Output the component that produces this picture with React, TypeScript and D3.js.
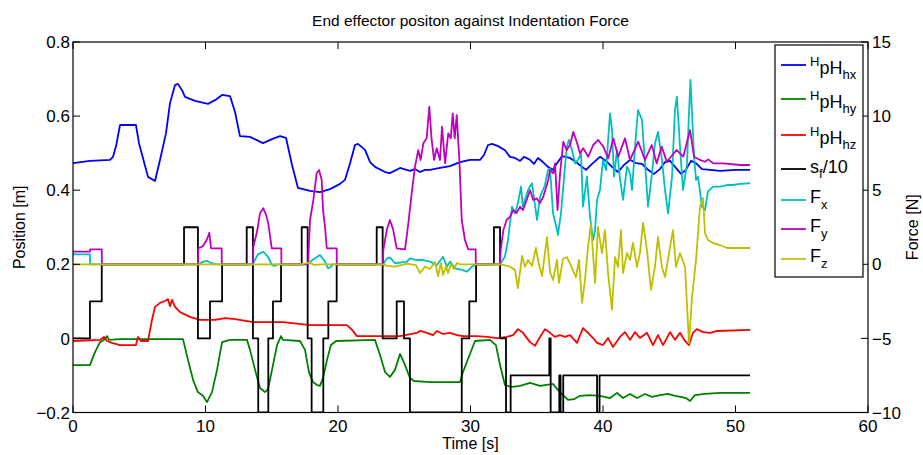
import React from 'react';
import * as d3 from 'd3';

// tick values
const timeTicks = [0, 10, 20, 30, 40, 50, 60];
const posTicks = [-0.2, 0, 0.2, 0.4, 0.6, 0.8];
const forceTicks = [-10, -5, 0, 5, 10, 15];

// end effector position [t (s), m]
const posHx: [number, number][] = [
  [0, 0.473], [1.28, 0.479], [2.79, 0.482], [3.02, 0.49], [3.25, 0.519], [3.55, 0.576], [4.75, 0.576],
  [4.98, 0.527], [5.36, 0.476], [5.66, 0.436], [6.19, 0.425], [6.57, 0.482], [7.02, 0.554], [7.32, 0.635],
  [7.7, 0.684], [7.92, 0.687], [8.23, 0.67], [8.45, 0.652], [9.21, 0.641], [10.19, 0.633], [10.72, 0.643],
  [11.25, 0.657], [11.85, 0.654], [12.23, 0.611], [12.6, 0.546], [13.36, 0.544], [14.34, 0.527], [15.02, 0.538],
  [15.62, 0.546], [16.08, 0.541], [16.53, 0.468], [16.98, 0.406], [17.89, 0.398], [18.64, 0.395], [19.4, 0.403],
  [20.15, 0.417], [20.53, 0.428], [20.91, 0.473], [21.28, 0.522], [21.51, 0.525], [22.04, 0.509], [22.42, 0.476],
  [22.79, 0.463], [23.55, 0.449], [23.92, 0.446], [24.68, 0.46], [25.43, 0.452], [25.81, 0.457], [26.19, 0.449],
  [26.57, 0.455], [26.94, 0.455], [27.7, 0.46], [28.45, 0.465], [29.21, 0.476], [29.96, 0.482], [30.72, 0.482],
  [31.02, 0.495], [31.32, 0.522], [31.62, 0.525], [32.08, 0.519], [32.6, 0.508], [32.98, 0.49], [33.36, 0.487],
  [33.74, 0.479], [34.04, 0.49], [34.49, 0.482], [34.79, 0.471], [35.09, 0.487], [35.47, 0.476], [35.85, 0.463],
  [36.23, 0.455], [36.53, 0.473], [36.91, 0.492], [37.51, 0.487], [37.96, 0.476], [38.42, 0.463], [38.72, 0.455],
  [39.17, 0.471], [39.77, 0.49], [40.23, 0.479], [40.68, 0.463], [41.13, 0.449], [41.58, 0.468], [42.04, 0.482],
  [42.49, 0.473], [42.94, 0.471], [43.4, 0.455], [43.85, 0.444], [44.3, 0.457], [44.68, 0.476], [45.06, 0.479],
  [45.51, 0.46], [45.89, 0.444], [46.26, 0.455], [46.64, 0.479], [47.02, 0.473], [47.47, 0.457], [48.08, 0.455],
  [48.83, 0.452], [49.96, 0.455], [51.1, 0.455],
];

const posHy: [number, number][] = [
  [0, -0.072], [1.28, -0.072], [1.66, -0.037], [2.04, -0.01], [2.34, -0.004], [2.57, 0.006], [2.72, -0.004],
  [3.55, -0.002], [5.81, -0.002], [8.3, -0.002], [8.68, -0.058], [9.06, -0.112], [9.43, -0.145], [9.81, -0.155],
  [10.11, -0.172], [10.49, -0.145], [10.87, -0.085], [11.25, -0.01], [11.85, -0.004], [13.13, -0.004],
  [13.36, -0.031], [13.74, -0.085], [14.11, -0.134], [14.49, -0.145], [14.72, -0.137], [15.02, -0.085],
  [15.4, -0.018], [15.7, 0.006], [15.85, -0.004], [17.13, -0.007], [17.51, -0.031], [17.81, -0.091],
  [18.11, -0.118], [18.42, -0.126], [18.64, -0.128], [18.87, -0.107], [19.17, -0.058], [19.47, -0.018],
  [19.85, -0.007], [22.79, -0.004], [23.17, -0.045], [23.55, -0.091], [23.92, -0.104], [24.3, -0.085],
  [24.68, -0.042], [25.06, -0.072], [25.43, -0.107], [25.74, -0.115], [26.94, -0.118], [28.45, -0.118],
  [29.21, -0.118], [29.43, -0.091], [29.96, -0.042], [30.34, -0.007], [31.47, -0.004], [31.92, -0.018],
  [32.23, -0.072], [32.6, -0.126], [33.13, -0.131], [33.74, -0.128], [34.49, -0.12], [35.25, -0.128],
  [36.23, -0.123], [36.6, -0.139], [36.98, -0.153], [37.36, -0.166], [37.81, -0.164], [38.26, -0.155],
  [39.02, -0.153], [39.77, -0.155], [40.53, -0.161], [41.06, -0.147], [41.51, -0.161], [42.04, -0.15],
  [42.57, -0.161], [43.17, -0.15], [43.7, -0.158], [44.3, -0.153], [44.91, -0.15], [45.43, -0.155],
  [45.89, -0.158], [46.26, -0.161], [46.57, -0.169], [46.94, -0.153], [47.7, -0.15], [48.83, -0.147],
  [51.1, -0.147],
];

const posHz: [number, number][] = [
  [0, -0.007], [2.04, -0.004], [2.34, 0.004], [2.57, -0.007], [2.94, -0.012], [3.55, -0.018], [4.75, -0.018],
  [4.91, 0.004], [5.13, -0.007], [5.66, -0.007], [5.96, 0.05], [6.19, 0.085], [6.57, 0.096], [6.94, 0.101],
  [7.17, 0.106], [7.32, 0.087], [7.47, 0.104], [7.7, 0.085], [8.08, 0.071], [8.83, 0.058], [9.58, 0.05],
  [10.72, 0.05], [11.47, 0.055], [12.23, 0.052], [13.58, 0.044], [15.85, 0.044], [17.89, 0.036], [20.68, 0.036],
  [21.06, 0.023], [21.43, 0.006], [22.64, 0.006], [24.68, 0.006], [25.96, 0.015], [26.19, 0.02], [26.72, 0.015],
  [27.17, 0.009], [27.47, 0.02], [27.92, 0.012], [28.45, 0.015], [28.98, 0.009], [29.43, 0.006], [30.49, 0.006],
  [31.25, 0.004], [32.0, 0.001], [32.75, 0.004], [33.21, 0.009], [33.58, 0.025], [33.96, 0.015], [34.49, -0.01],
  [34.87, -0.02], [35.25, 0.004], [35.62, 0.025], [36.0, 0.015], [36.38, 0.004], [36.75, 0.009], [37.13, 0.004],
  [37.51, 0.009], [38.04, -0.012], [38.49, 0.028], [38.87, 0.015], [39.25, 0.001], [39.55, -0.012], [40.0, -0.018],
  [40.38, 0.001], [40.75, -0.023], [41.28, 0.004], [41.66, 0.017], [42.04, -0.004], [42.42, 0.017], [42.79, 0.001],
  [43.32, 0.015], [43.77, -0.018], [44.15, 0.009], [44.53, -0.018], [45.06, 0.017], [45.43, -0.004], [45.81, 0.015],
  [46.19, -0.007], [46.49, -0.018], [46.79, 0.015], [47.09, 0.025], [47.55, 0.017], [48.08, 0.015], [48.6, 0.02],
  [51.1, 0.023],
];

// s_f / 10, step signal (value held until next time)
const sfDiv10: [number, number][] = [
  [0, 0], [1.28, 0.1], [2.17, 0.2], [8.38, 0.3], [9.43, 0], [10.34, 0.1], [11.25, 0.2],
  [13.11, 0.3], [13.58, 0], [13.98, -0.2], [14.74, 0], [15.09, 0.1], [15.7, 0.2],
  [17.26, 0.3], [17.71, 0], [18.01, -0.2], [18.89, 0], [19.27, 0.1], [19.9, 0.2],
  [22.92, 0.3], [23.37, 0], [24.43, 0.1], [24.98, 0], [25.43, -0.2],
  [29.34, 0], [29.91, 0.1], [30.42, 0.2], [31.77, 0.3], [32.23, 0], [32.68, -0.2], [33.03, -0.1],
  [35.95, 0], [36.05, -0.2], [36.7, -0.1], [36.8, -0.2], [37.0, -0.1], [39.55, -0.2], [39.74, -0.1],
  [51.1, -0.1],
];

// indentation force [t (s), N]
const forceX: [number, number][] = [
  [0, 0.67], [1.28, 0.67], [1.29, 0], [9.43, 0], [9.81, 0.16], [10.11, 0.24], [10.42, 0.09], [10.72, 0],
  [13.58, 0], [13.66, 0.18], [13.96, 0.67], [14.34, 0.85], [14.72, 0.51], [15.02, -0.05], [15.25, -0.11],
  [15.4, 0], [17.74, 0], [17.89, 0.18], [18.26, 0.4], [18.64, 0.63], [19.02, 0.18], [19.25, -0.27],
  [19.47, -0.16], [19.62, 0], [23.4, 0], [23.7, 0.4], [23.92, 0.47], [24.3, 0.07], [25.21, 0.18],
  [25.43, 0.4], [25.96, 0.29], [26.42, 0.29], [26.94, 0.18], [27.47, -0.05], [27.92, 0.51], [28.23, -0.16],
  [28.45, 0.18], [28.83, -0.27], [29.36, -0.38], [29.74, -0.5], [30.11, -0.16], [30.42, 0], [32.23, 0],
  [32.6, 0.51], [32.83, 1.64], [33.13, 3.89], [33.36, 3.44], [33.58, 4.12], [33.81, 5.24], [33.96, 3.89],
  [34.34, 5.01], [34.64, 5.47], [35.02, 2.99], [35.25, 4.56], [35.62, 5.35], [35.85, 6.36], [36.0, 6.48],
  [36.23, 3.44], [36.53, 2.31], [36.6, 1.98], [36.83, 3.44], [37.13, 6.59], [37.28, 7.94], [37.43, 8.39],
  [37.66, 7.71], [37.89, 6.81], [38.11, 7.04], [38.34, 7.49], [38.49, 3.89], [38.79, 5.91], [39.02, 3.21],
  [39.25, 1.64], [39.4, 2.31], [39.55, 4.34], [39.77, 5.01], [40.0, 7.04], [40.23, 6.36], [40.53, 10.19],
  [40.68, 9.06], [40.83, 5.91], [41.06, 7.71], [41.28, 5.82], [41.51, 4.34], [41.81, 6.59], [42.04, 6.14],
  [42.19, 5.01], [42.42, 7.94], [42.64, 10.41], [42.94, 9.74], [43.17, 6.81], [43.4, 3.89], [43.7, 6.14],
  [43.92, 8.16], [44.15, 8.93], [44.45, 7.04], [44.68, 5.01], [44.91, 3.44], [45.21, 5.91], [45.43, 10.41],
  [45.58, 11.31], [45.81, 7.94], [46.04, 5.01], [46.34, 6.81], [46.49, 10.19], [46.6, 12.44], [46.72, 10.19],
  [46.87, 7.26], [47.02, 5.69], [47.17, 5.91], [47.47, 3.89], [47.7, 3.66], [47.92, 4.9], [48.3, 5.24],
  [48.83, 5.24], [49.36, 5.35], [49.81, 5.35], [50.34, 5.42], [51.1, 5.47],
];

const forceY: [number, number][] = [
  [0, 0.85], [1.28, 0.85], [1.29, 1.01], [2.17, 1.01], [2.18, 0], [9.43, 0], [9.46, 1.08], [9.81, 1.23],
  [10.09, 1.64], [10.29, 2.13], [10.42, 1.08], [11.22, 1.08], [11.23, 0], [13.58, 0], [13.61, 1.19],
  [13.86, 2.09], [13.96, 2.58], [14.11, 3.44], [14.36, 3.78], [14.57, 3.33], [14.74, 2.77], [15.0, 1.08],
  [15.72, 1.08], [15.73, 0], [17.74, 0], [17.89, 2.99], [18.14, 4.34], [18.39, 6.14], [18.57, 6.36],
  [18.77, 5.69], [18.87, 3.66], [19.02, 2.54], [19.15, 1.08], [19.9, 1.08], [19.91, 0], [23.4, 0],
  [23.42, 0.96], [23.68, 2.31], [23.92, 2.99], [24.17, 2.31], [24.43, 1.08], [25.06, 1.01], [25.31, 2.77],
  [25.56, 4.79], [25.81, 6.59], [26.06, 7.71], [26.24, 7.04], [26.44, 8.16], [26.69, 8.5], [26.89, 10.63],
  [27.07, 8.39], [27.25, 7.04], [27.45, 7.83], [27.7, 7.04], [27.85, 9.28], [28.08, 6.81], [28.32, 8.84],
  [28.51, 8.5], [28.66, 10.19], [28.81, 8.5], [28.96, 10.07], [29.16, 7.04], [29.34, 2.99], [29.58, 1.64],
  [29.83, 1.01], [30.39, 1.01], [30.4, 0], [32.23, 0], [32.28, 0.96], [32.48, 2.31], [32.73, 2.99],
  [32.98, 3.21], [33.23, 3.66], [33.48, 3.46], [33.74, 3.89], [33.96, 3.66], [34.24, 4.34], [34.49, 5.01],
  [34.74, 4.34], [34.99, 4.45], [35.25, 4.14], [35.49, 4.56], [35.87, 5.69], [36.0, 6.36], [36.25, 6.14],
  [36.38, 6.81], [36.57, 3.66], [36.75, 6.03], [37.0, 8.27], [37.26, 7.71], [37.51, 8.05], [37.76, 8.93],
  [38.02, 8.25], [38.26, 7.49], [38.51, 7.83], [38.89, 7.26], [39.26, 8.05], [39.64, 8.39], [40.02, 7.94],
  [40.4, 7.15], [40.78, 8.5], [41.15, 7.26], [41.66, 8.5], [42.04, 7.04], [42.66, 8.27], [43.17, 7.04],
  [43.68, 8.05], [44.05, 6.81], [44.43, 7.94], [44.81, 6.92], [45.56, 7.71], [46.06, 7.26], [46.57, 9.06],
  [46.87, 7.26], [47.32, 7.04], [47.7, 6.92], [47.95, 7.08], [48.32, 6.81], [49.08, 6.81], [50.34, 6.7],
  [51.1, 6.7],
];

const forceZ: [number, number][] = [
  [0, 0], [17.13, 0], [17.89, 0.12], [18.19, -0.05], [18.64, 0], [23.4, 0], [23.7, -0.11], [24.3, -0.15],
  [25.21, 0.05], [25.89, -0.05], [26.19, -0.59], [26.57, -0.16], [26.94, -0.32], [27.32, 0.16], [27.55, -0.79],
  [27.77, 0.09], [27.92, -0.72], [28.15, -0.11], [28.3, -0.59], [28.53, 0.02], [28.75, -0.32], [28.98, 0.09],
  [29.21, 0], [32.3, 0], [32.98, -0.16], [33.36, -0.38], [33.58, -1.6], [33.89, 0.56], [34.11, -0.16],
  [34.34, 0.29], [34.64, -0.11], [34.94, 1.1], [35.17, -0.05], [35.4, -0.79], [35.62, 0.76], [35.77, 1.84],
  [36.0, -0.52], [36.23, -1.06], [36.53, 0.29], [36.68, -1.26], [36.98, 0.36], [37.28, 0.49], [37.66, -0.25],
  [37.96, -0.86], [38.19, 0.29], [38.42, -2.61], [38.64, -1.06], [38.87, 1.16], [39.09, 2.72], [39.4, -1.26],
  [39.62, 2.52], [39.92, 0.76], [40.15, 2.31], [40.38, -0.59], [40.68, -3.08], [40.91, 0.49], [41.13, -0.18],
  [41.36, 2.31], [41.51, -0.59], [41.81, 0.76], [42.04, 0.29], [42.26, 1.44], [42.57, -0.18], [42.79, 0.76],
  [43.02, 2.79], [43.32, 0.96], [43.62, -1.73], [43.92, -0.18], [44.15, 1.84], [44.45, -0.18], [44.68, -0.86],
  [45.06, 1.17], [45.28, 2.31], [45.51, -0.18], [45.81, 0.76], [46.19, -0.18], [46.49, -5.31], [46.72, -2.21],
  [47.02, 0.29], [47.32, 3.87], [47.55, 4.47], [47.7, 2.11], [47.92, 1.64], [48.3, 1.44], [48.83, 1.3],
  [49.36, 1.1], [50.34, 1.1], [51.1, 1.1],
];

const W = 923;
const H = 455;
const plot = { left: 73, right: 868, top: 42, bottom: 412.5 };
const FONT = '"Liberation Sans", Arial, Helvetica, sans-serif';

const x = d3.scaleLinear().domain([0, 60]).range([plot.left, plot.right]);
const yPos = d3.scaleLinear().domain([-0.2, 0.8]).range([plot.bottom, plot.top]);
const yForce = d3.scaleLinear().domain([-10, 15]).range([plot.bottom, plot.top]);

const posLine = d3.line<[number, number]>().x(d => x(d[0])).y(d => yPos(d[1]));
const stepLine = d3.line<[number, number]>().x(d => x(d[0])).y(d => yPos(d[1])).curve(d3.curveStepAfter);
const forceLine = d3.line<[number, number]>().x(d => x(d[0])).y(d => yForce(d[1]));

const fmt = d3.format('.1f');
const posLabel = (v: number) => (v === 0 ? '0' : fmt(v));
const forceLabel = (v: number) => d3.format('d')(v);

const series = [
  { name: 'hx', d: posLine(posHx), color: '#0000ff' },
  { name: 'hy', d: posLine(posHy), color: '#008000' },
  { name: 'hz', d: posLine(posHz), color: '#ff0000' },
  { name: 'sf', d: stepLine(sfDiv10), color: '#000000' },
  { name: 'fx', d: forceLine(forceX), color: '#00bfbf' },
  { name: 'fy', d: forceLine(forceY), color: '#bf00bf' },
  { name: 'fz', d: forceLine(forceZ), color: '#bfbf00' },
];

function LegendLabel({ name, y }: { name: string; y: number }) {
  const tx = 810;
  if (name === 'hx' || name === 'hy' || name === 'hz') {
    return (
      <text x={tx} y={y + 9} fontSize={18}>
        <tspan fontSize={13} dy={-8}>H</tspan>
        <tspan dy={8}>pH</tspan>
        <tspan fontSize={13} dy={5}>{name}</tspan>
      </text>
    );
  }
  if (name === 'sf') {
    return (
      <text x={tx} y={y + 4} fontSize={18}>
        s<tspan fontSize={13} dy={5}>f</tspan>
        <tspan dy={-5}>/10</tspan>
      </text>
    );
  }
  return (
    <text x={tx} y={y + 3} fontSize={18}>
      F<tspan fontSize={13} dy={6}>{name[1]}</tspan>
    </text>
  );
}

const legendY = [65, 99, 135, 169, 200, 229, 259];

export default function App() {
  const tick = 7;
  return (
    <svg width={W} height={H} style={{ position: 'absolute', left: 0, top: 0, background: '#fff' }}
      fontFamily={FONT}>
      <defs>
        <clipPath id="plotClip">
          <rect x={plot.left} y={plot.top} width={plot.right - plot.left} height={plot.bottom - plot.top} />
        </clipPath>
      </defs>

      {/* data */}
      <g clipPath="url(#plotClip)" fill="none" strokeWidth={1.8} strokeLinejoin="round">
        {series.map(s => (
          <path key={s.name} d={s.d || ''} stroke={s.color} />
        ))}
      </g>

      {/* axes box */}
      <rect x={plot.left} y={plot.top} width={plot.right - plot.left} height={plot.bottom - plot.top}
        fill="none" stroke="#000" strokeWidth={1.2} />

      {/* ticks */}
      <g stroke="#000" strokeWidth={1}>
        {timeTicks.map(t => (
          <g key={t}>
            <line x1={x(t)} x2={x(t)} y1={plot.bottom} y2={plot.bottom - tick} />
            <line x1={x(t)} x2={x(t)} y1={plot.top} y2={plot.top + tick} />
          </g>
        ))}
        {posTicks.map(v => (
          <line key={v} x1={plot.left} x2={plot.left + tick} y1={yPos(v)} y2={yPos(v)} />
        ))}
        {forceTicks.map(v => (
          <line key={v} x1={plot.right} x2={plot.right - tick} y1={yForce(v)} y2={yForce(v)} />
        ))}
      </g>

      <g fontSize={17} fill="#000">
        {timeTicks.map(t => (
          <text key={t} x={x(t)} y={432} textAnchor="middle">{t}</text>
        ))}
        {posTicks.map(v => (
          <text key={v} x={70} y={yPos(v)} dy="0.36em" textAnchor="end">{posLabel(v)}</text>
        ))}
        {forceTicks.map(v => (
          <text key={v} x={872} y={yForce(v)} dy="0.36em" textAnchor="start">{forceLabel(v)}</text>
        ))}
      </g>

      {/* titles */}
      <text x={(plot.left + plot.right) / 2} y={26} fontSize={15.5} textAnchor="middle">
        End effector positon against Indentation Force
      </text>
      <text x={(plot.left + plot.right) / 2} y={449} fontSize={16} textAnchor="middle">Time [s]</text>
      <text transform={`translate(25,${(plot.top + plot.bottom) / 2}) rotate(-90)`} fontSize={16} textAnchor="middle">
        Position [m]
      </text>
      <text transform={`translate(918,${(plot.top + plot.bottom) / 2}) rotate(-90)`} fontSize={16} textAnchor="middle">
        Force [N]
      </text>

      {/* legend */}
      <g>
        <rect x={775} y={45} width={88} height={232} fill="#fff" stroke="#000" strokeWidth={1.2} />
        {series.map((s, i) => (
          <g key={s.name}>
            <line x1={781} x2={806} y1={legendY[i]} y2={legendY[i]} stroke={s.color} strokeWidth={1.8} />
            <LegendLabel name={s.name} y={legendY[i]} />
          </g>
        ))}
      </g>
    </svg>
  );
}
